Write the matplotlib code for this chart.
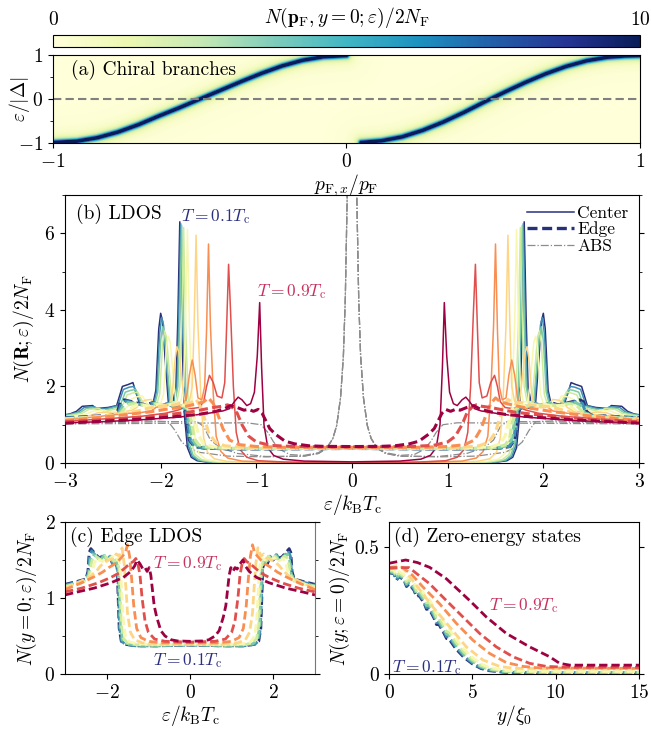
import numpy as np
import matplotlib.pyplot as plt
from matplotlib.ticker import MultipleLocator
from matplotlib.lines import Line2D

plt.rcParams['font.family'] = 'serif'
plt.rcParams['font.serif'] = ['cmr10']
plt.rcParams['mathtext.fontset'] = 'cm'
plt.rcParams['axes.formatter.use_mathtext'] = True
plt.rcParams['font.size'] = 14

# temperatures T/Tc and their line colours
temps = [0.1, 0.2, 0.3, 0.4, 0.5, 0.6, 0.7, 0.8, 0.9]
colors = ['#28307a', '#3f8fb4', '#7ccba4', '#cdeb9c', '#f7f7b0',
          '#fed585', '#f98e52', '#e04f4c', '#9e0142']

# chiral edge branches eps/|Delta| vs p_Fx/p_F
branch1_p = [-1.0, -0.92, -0.85, -0.78, -0.71, -0.64, -0.57, -0.5, -0.43, -0.36, -0.29, -0.22, -0.15, -0.08, 0.0]
branch1_e = [-1.0, -0.97, -0.89, -0.76, -0.59, -0.39, -0.2, 0.0, 0.2, 0.4, 0.59, 0.76, 0.89, 0.97, 1.0]
branch2_p = [0.05, 0.12, 0.19, 0.26, 0.33, 0.40, 0.47, 0.54, 0.61, 0.68, 0.75, 0.82, 0.89, 0.95, 1.0]
branch2_e = [-1.0, -0.96, -0.87, -0.72, -0.53, -0.31, -0.07, 0.16, 0.38, 0.58, 0.75, 0.88, 0.96, 0.99, 1.0]

# LDOS in the centre of the film, (eps/kTc, N/2NF), eps >= 0 (symmetric)
center_t1 = [(0, 0.0), (1.0, 0.005), (1.5, 0.02), (1.62, 0.06), (1.68, 0.15), (1.72, 0.4), (1.75, 1.2), (1.78, 3.5),
             (1.80, 6.3), (1.82, 3.8), (1.84, 2.0), (1.87, 1.6), (1.92, 1.6), (1.95, 2.6), (1.98, 3.7), (2.00, 3.91),
             (2.02, 3.5), (2.05, 1.9), (2.08, 1.55), (2.15, 1.5), (2.22, 1.55), (2.26, 1.85), (2.29, 2.1), (2.34, 2.05),
             (2.40, 2.0), (2.43, 1.75), (2.46, 1.5), (2.55, 1.45), (2.68, 1.42), (2.71, 1.5), (2.82, 1.48),
             (2.88, 1.35), (2.95, 1.28), (3.0, 1.26)]
center_t2 = [(0, 0.0), (1.0, 0.006), (1.5, 0.025), (1.61, 0.07), (1.67, 0.17), (1.71, 0.45), (1.74, 1.3), (1.77, 3.6),
             (1.79, 6.25), (1.81, 3.8), (1.83, 2.0), (1.86, 1.6), (1.91, 1.6), (1.94, 2.6), (1.97, 3.6), (1.99, 3.8),
             (2.01, 3.4), (2.04, 1.9), (2.07, 1.55), (2.14, 1.5), (2.21, 1.55), (2.25, 1.8), (2.28, 2.0), (2.33, 1.98),
             (2.39, 1.92), (2.42, 1.7), (2.45, 1.5), (2.55, 1.43), (2.66, 1.4), (2.69, 1.47), (2.80, 1.45),
             (2.86, 1.33), (2.95, 1.27), (3.0, 1.25)]
center_t3 = [(0, 0.0), (1.0, 0.008), (1.5, 0.03), (1.6, 0.08), (1.66, 0.2), (1.70, 0.5), (1.73, 1.4), (1.76, 3.6),
             (1.78, 6.2), (1.80, 3.8), (1.82, 2.0), (1.85, 1.6), (1.90, 1.6), (1.93, 2.5), (1.96, 3.4), (1.98, 3.56),
             (2.00, 3.2), (2.03, 1.85), (2.06, 1.55), (2.12, 1.5), (2.19, 1.52), (2.23, 1.75), (2.26, 1.92),
             (2.31, 1.9), (2.37, 1.85), (2.40, 1.65), (2.43, 1.48), (2.55, 1.4), (2.63, 1.38), (2.67, 1.44),
             (2.78, 1.42), (2.84, 1.32), (2.95, 1.26), (3.0, 1.24)]
center_t4 = [(0, 0.0), (1.0, 0.01), (1.45, 0.03), (1.57, 0.09), (1.64, 0.22), (1.68, 0.55), (1.71, 1.5), (1.74, 3.6),
             (1.76, 6.15), (1.78, 3.8), (1.80, 2.0), (1.83, 1.6), (1.88, 1.6), (1.91, 2.4), (1.94, 3.3), (1.96, 3.45),
             (1.98, 3.1), (2.01, 1.8), (2.04, 1.55), (2.10, 1.48), (2.17, 1.5), (2.21, 1.7), (2.24, 1.85),
             (2.29, 1.83), (2.35, 1.78), (2.38, 1.6), (2.41, 1.45), (2.52, 1.38), (2.60, 1.36), (2.64, 1.42),
             (2.75, 1.4), (2.82, 1.3), (2.95, 1.24), (3.0, 1.22)]
center_t5 = [(0, 0.0), (1.0, 0.012), (1.4, 0.035), (1.53, 0.1), (1.60, 0.25), (1.64, 0.6), (1.67, 1.6), (1.70, 3.6),
             (1.72, 6.1), (1.74, 3.7), (1.76, 2.0), (1.79, 1.6), (1.84, 1.6), (1.87, 2.3), (1.90, 3.15), (1.92, 3.31),
             (1.94, 3.0), (1.97, 1.8), (2.00, 1.55), (2.06, 1.46), (2.12, 1.48), (2.16, 1.62), (2.19, 1.75),
             (2.25, 1.73), (2.30, 1.68), (2.33, 1.52), (2.37, 1.42), (2.48, 1.35), (2.55, 1.33), (2.59, 1.38),
             (2.70, 1.36), (2.78, 1.28), (2.95, 1.2), (3.0, 1.19)]
center_t6 = [(0, 0.0), (0.9, 0.015), (1.3, 0.04), (1.44, 0.11), (1.51, 0.28), (1.55, 0.65), (1.58, 1.7), (1.61, 3.6),
             (1.63, 5.95), (1.65, 3.6), (1.67, 2.0), (1.70, 1.6), (1.75, 1.6), (1.78, 2.2), (1.81, 2.9), (1.83, 3.04),
             (1.85, 2.7), (1.88, 1.75), (1.91, 1.52), (1.97, 1.44), (2.03, 1.45), (2.07, 1.58), (2.10, 1.66),
             (2.16, 1.64), (2.21, 1.58), (2.25, 1.45), (2.30, 1.38), (2.42, 1.32), (2.5, 1.3), (2.55, 1.33),
             (2.66, 1.31), (2.74, 1.24), (2.95, 1.16), (3.0, 1.15)]
center_t7 = [(0, 0.0), (0.8, 0.02), (1.15, 0.05), (1.30, 0.13), (1.37, 0.3), (1.42, 0.7), (1.45, 1.8), (1.48, 3.6),
             (1.50, 5.72), (1.52, 3.5), (1.54, 2.0), (1.57, 1.65), (1.61, 1.7), (1.64, 2.3), (1.67, 2.69), (1.70, 2.3),
             (1.73, 1.7), (1.77, 1.5), (1.83, 1.42), (1.88, 1.45), (1.92, 1.55), (1.98, 1.52), (2.05, 1.45),
             (2.10, 1.36), (2.25, 1.3), (2.35, 1.3), (2.45, 1.27), (2.7, 1.2), (3.0, 1.12)]
center_t8 = [(0, 0.0), (0.7, 0.025), (0.98, 0.06), (1.10, 0.15), (1.17, 0.35), (1.21, 0.8), (1.24, 2.0), (1.27, 4.0),
             (1.29, 5.19), (1.31, 3.6), (1.33, 2.1), (1.36, 1.7), (1.41, 1.75), (1.45, 2.1), (1.49, 2.29), (1.52, 2.0),
             (1.55, 1.6), (1.60, 1.45), (1.68, 1.42), (1.75, 1.45), (1.82, 1.38), (1.95, 1.3), (2.2, 1.22),
             (2.6, 1.15), (3.0, 1.09)]
center_t9 = [(0, 0.03), (0.5, 0.05), (0.72, 0.1), (0.82, 0.2), (0.88, 0.4), (0.92, 1.0), (0.945, 2.5), (0.965, 4.19),
             (0.99, 2.8), (1.02, 1.85), (1.06, 1.55), (1.10, 1.5), (1.15, 1.65), (1.19, 1.72), (1.23, 1.6),
             (1.28, 1.42), (1.35, 1.36), (1.5, 1.3), (1.8, 1.2), (2.2, 1.13), (2.6, 1.08), (3.0, 1.05)]

# LDOS at the edge y = 0
edge_t1 = [(0, 0.38), (0.8, 0.37), (1.3, 0.37), (1.55, 0.39), (1.65, 0.43), (1.70, 0.6), (1.73, 1.1), (1.75, 1.4),
           (1.8, 1.5), (1.86, 1.45), (1.92, 1.55), (2.0, 1.5), (2.08, 1.58), (2.15, 1.52), (2.22, 1.55), (2.3, 1.6),
           (2.38, 1.65), (2.42, 1.6), (2.45, 1.35), (2.5, 1.25), (2.7, 1.22), (3.0, 1.18)]
edge_t2 = [(0, 0.38), (0.8, 0.37), (1.3, 0.37), (1.55, 0.39), (1.64, 0.43), (1.69, 0.6), (1.72, 1.1), (1.74, 1.4),
           (1.8, 1.5), (1.86, 1.45), (1.92, 1.55), (2.0, 1.5), (2.08, 1.57), (2.15, 1.5), (2.22, 1.53), (2.3, 1.58),
           (2.36, 1.62), (2.41, 1.55), (2.44, 1.33), (2.5, 1.24), (2.7, 1.21), (3.0, 1.17)]
edge_t3 = [(0, 0.385), (0.8, 0.375), (1.3, 0.38), (1.52, 0.4), (1.62, 0.45), (1.67, 0.62), (1.70, 1.1), (1.73, 1.4),
           (1.78, 1.5), (1.85, 1.47), (1.9, 1.55), (1.98, 1.5), (2.06, 1.56), (2.14, 1.5), (2.2, 1.53), (2.28, 1.56),
           (2.34, 1.58), (2.39, 1.5), (2.43, 1.32), (2.5, 1.23), (2.7, 1.2), (3.0, 1.16)]
edge_t4 = [(0, 0.39), (0.8, 0.38), (1.3, 0.385), (1.5, 0.41), (1.6, 0.47), (1.65, 0.65), (1.68, 1.1), (1.71, 1.4),
           (1.76, 1.5), (1.83, 1.48), (1.88, 1.55), (1.96, 1.5), (2.04, 1.55), (2.12, 1.5), (2.2, 1.52), (2.27, 1.55),
           (2.33, 1.53), (2.37, 1.45), (2.42, 1.3), (2.5, 1.22), (2.7, 1.19), (3.0, 1.15)]
edge_t5 = [(0, 0.395), (0.8, 0.39), (1.25, 0.395), (1.45, 0.42), (1.55, 0.5), (1.6, 0.7), (1.64, 1.1), (1.67, 1.4),
           (1.72, 1.52), (1.8, 1.5), (1.86, 1.55), (1.94, 1.5), (2.02, 1.53), (2.1, 1.48), (2.18, 1.5), (2.24, 1.52),
           (2.3, 1.45), (2.36, 1.32), (2.45, 1.25), (2.7, 1.19), (3.0, 1.14)]
edge_t6 = [(0, 0.4), (0.8, 0.4), (1.15, 0.41), (1.33, 0.45), (1.43, 0.55), (1.5, 0.8), (1.54, 1.15), (1.58, 1.45),
           (1.63, 1.66), (1.7, 1.55), (1.77, 1.58), (1.85, 1.52), (1.95, 1.5), (2.05, 1.47), (2.15, 1.42),
           (2.25, 1.35), (2.4, 1.28), (2.7, 1.2), (3.0, 1.13)]
edge_t7 = [(0, 0.41), (0.7, 0.41), (1.0, 0.43), (1.18, 0.48), (1.28, 0.6), (1.35, 0.9), (1.4, 1.25), (1.45, 1.55),
           (1.5, 1.7), (1.55, 1.6), (1.62, 1.55), (1.7, 1.5), (1.8, 1.45), (1.95, 1.4), (2.1, 1.34), (2.3, 1.28),
           (2.6, 1.2), (3.0, 1.11)]
edge_t8 = [(0, 0.42), (0.6, 0.43), (0.85, 0.46), (1.0, 0.55), (1.08, 0.7), (1.15, 1.0), (1.2, 1.3), (1.25, 1.45),
           (1.3, 1.52), (1.36, 1.48), (1.45, 1.45), (1.55, 1.4), (1.7, 1.33), (1.9, 1.27), (2.2, 1.2), (2.6, 1.13),
           (3.0, 1.08)]
edge_t9 = [(0, 0.43), (0.3, 0.435), (0.45, 0.45), (0.6, 0.5), (0.7, 0.57), (0.8, 0.75), (0.86, 0.9), (0.9, 1.1),
           (0.94, 1.3), (0.98, 1.4), (1.03, 1.35), (1.08, 1.4), (1.13, 1.38), (1.2, 1.45), (1.27, 1.5), (1.33, 1.42),
           (1.42, 1.35), (1.6, 1.27), (1.9, 1.2), (2.3, 1.13), (2.7, 1.08), (3.0, 1.04)]

# Andreev bound state contribution
abs_t1 = [(0, 21.0), (0.02, 16.0), (0.035, 10.5), (0.05, 7.0), (0.07, 4.3), (0.09, 2.8), (0.12, 1.7), (0.16, 0.98),
          (0.2, 0.64), (0.26, 0.39), (0.35, 0.25), (0.5, 0.18), (0.9, 0.16), (1.3, 0.18), (1.6, 0.28), (1.72, 0.42),
          (1.78, 0.55), (1.85, 0.85), (1.92, 1.08), (2.1, 1.1), (3.0, 1.05)]
abs_t7 = [(0, 21.0), (0.02, 16.0), (0.035, 10.5), (0.05, 7.0), (0.07, 4.3), (0.09, 2.8), (0.12, 1.7), (0.16, 0.98),
          (0.2, 0.64), (0.26, 0.39), (0.35, 0.25), (0.5, 0.18), (0.9, 0.17), (1.2, 0.25), (1.38, 0.4),
          (1.48, 0.6), (1.55, 0.95), (1.62, 1.08), (1.9, 1.08), (3.0, 1.04)]
abs_t9 = [(0, 21.0), (0.02, 16.0), (0.035, 10.5), (0.05, 7.0), (0.07, 4.3), (0.09, 2.8), (0.12, 1.7), (0.16, 0.98),
          (0.2, 0.64), (0.26, 0.42), (0.35, 0.27), (0.5, 0.2), (0.65, 0.22), (0.75, 0.35), (0.82, 0.55),
          (0.88, 0.8), (0.95, 1.0), (1.1, 1.05), (3.0, 1.02)]

# zero-energy LDOS vs distance from the edge, (y/xi0, N/2NF)
zero_t1 = [(0, 0.40), (0.3, 0.395), (0.45, 0.37), (0.6, 0.385), (0.9, 0.37), (1.05, 0.345), (1.2, 0.355),
           (1.5, 0.33), (1.65, 0.305), (1.8, 0.31), (2.1, 0.28), (2.25, 0.255), (2.4, 0.258), (2.7, 0.22),
           (2.85, 0.195), (3.0, 0.195), (3.3, 0.16), (3.45, 0.14), (3.6, 0.138), (4.0, 0.1), (4.5, 0.065),
           (5.0, 0.04), (5.5, 0.022), (6.0, 0.013), (7.0, 0.006), (9.0, 0.004), (15.0, 0.004)]
zero_t2 = [(0, 0.40), (0.3, 0.397), (0.45, 0.372), (0.6, 0.388), (0.9, 0.373), (1.05, 0.35), (1.2, 0.36),
           (1.5, 0.335), (1.65, 0.31), (1.8, 0.316), (2.1, 0.285), (2.25, 0.262), (2.4, 0.264), (2.7, 0.227),
           (2.85, 0.203), (3.0, 0.202), (3.3, 0.168), (3.45, 0.148), (3.6, 0.146), (4.0, 0.107), (4.5, 0.07),
           (5.0, 0.044), (5.5, 0.025), (6.0, 0.015), (7.0, 0.007), (9.0, 0.005), (15.0, 0.005)]
zero_t3 = [(0, 0.405), (0.3, 0.4), (0.45, 0.378), (0.6, 0.392), (0.9, 0.378), (1.05, 0.356), (1.2, 0.366),
           (1.5, 0.342), (1.65, 0.318), (1.8, 0.323), (2.1, 0.293), (2.25, 0.27), (2.4, 0.272), (2.7, 0.236),
           (2.85, 0.212), (3.0, 0.21), (3.3, 0.177), (3.45, 0.157), (3.6, 0.154), (4.0, 0.115), (4.5, 0.077),
           (5.0, 0.05), (5.5, 0.029), (6.0, 0.018), (7.0, 0.009), (9.0, 0.006), (15.0, 0.006)]
zero_t4 = [(0, 0.41), (0.3, 0.405), (0.45, 0.386), (0.6, 0.398), (0.9, 0.385), (1.05, 0.364), (1.2, 0.374),
           (1.5, 0.352), (1.65, 0.328), (1.8, 0.333), (2.1, 0.304), (2.25, 0.281), (2.4, 0.283), (2.7, 0.248),
           (2.85, 0.224), (3.0, 0.222), (3.3, 0.189), (3.45, 0.168), (3.6, 0.165), (4.0, 0.126), (4.5, 0.086),
           (5.0, 0.057), (5.5, 0.034), (6.0, 0.021), (7.0, 0.011), (9.0, 0.008), (15.0, 0.008)]
zero_t5 = [(0, 0.415), (0.3, 0.41), (0.45, 0.395), (0.6, 0.405), (0.9, 0.393), (1.05, 0.374), (1.2, 0.383),
           (1.5, 0.363), (1.65, 0.34), (1.8, 0.345), (2.1, 0.317), (2.25, 0.295), (2.4, 0.296), (2.7, 0.262),
           (2.85, 0.24), (3.0, 0.237), (3.3, 0.204), (3.45, 0.183), (3.6, 0.18), (4.0, 0.14), (4.5, 0.098),
           (5.0, 0.066), (5.5, 0.041), (6.0, 0.026), (7.0, 0.014), (9.0, 0.01), (15.0, 0.01)]
zero_t6 = [(0, 0.42), (0.6, 0.43), (1.0, 0.405), (1.64, 0.35), (2.64, 0.264), (3.64, 0.186), (4.64, 0.107),
           (5.64, 0.055), (6.64, 0.03), (7.5, 0.022), (15.0, 0.02)]
zero_t7 = [(0, 0.415), (0.84, 0.42), (1.4, 0.39), (2.04, 0.343), (3.04, 0.277), (4.04, 0.2), (5.04, 0.133),
           (6.04, 0.081), (7.04, 0.045), (8.04, 0.03), (9.0, 0.024), (15.0, 0.022)]
zero_t8 = [(0, 0.42), (1.2, 0.42), (2.44, 0.356), (3.44, 0.29), (4.44, 0.225), (5.44, 0.16), (6.44, 0.107),
           (7.44, 0.068), (8.44, 0.042), (9.44, 0.03), (10.5, 0.027), (15.0, 0.026)]
zero_t9 = [(0, 0.437), (1.0, 0.45), (1.7, 0.44), (2.44, 0.421), (3.44, 0.376), (4.84, 0.29), (5.84, 0.225),
           (7.04, 0.16), (8.44, 0.107), (9.64, 0.068), (10.24, 0.042), (10.84, 0.035), (15.0, 0.035)]

center_all = [center_t1, center_t2, center_t3, center_t4, center_t5, center_t6, center_t7, center_t8, center_t9]
edge_all = [edge_t1, edge_t2, edge_t3, edge_t4, edge_t5, edge_t6, edge_t7, edge_t8, edge_t9]
zero_all = [zero_t1, zero_t2, zero_t3, zero_t4, zero_t5, zero_t6, zero_t7, zero_t8, zero_t9]
abs_all = [abs_t1, abs_t7, abs_t9]

label_lo = '#2b2f80'
label_hi = '#c8325f'


def mirrored(pts):
    a = np.array(pts, dtype=float)
    e = np.concatenate([-a[::-1, 0], a[1:, 0]])
    n = np.concatenate([a[::-1, 1], a[1:, 1]])
    return e, n


fig = plt.figure(figsize=(6.51, 7.31), dpi=100)
W, H = 651, 731


def px_axes(x0, y0, x1, y1):
    return fig.add_axes([x0 / W, 1 - y1 / H, (x1 - x0) / W, (y1 - y0) / H])


cax = px_axes(53, 35, 640, 47)
ax_a = px_axes(53, 55, 640, 143)
ax_b = px_axes(65, 195, 639, 463)
ax_c = px_axes(65, 522, 315, 674)
ax_d = px_axes(389, 522, 639, 674)

# (a) spectral weight around the chiral branches
nx, ny = 587, 88
pg, eg = np.meshgrid(np.linspace(-1, 1, nx), np.linspace(-1, 1, ny))
X, Y = pg * nx / 2, eg * ny / 2
dist = np.full(X.shape, np.inf)
for bp, be in [(branch1_p, branch1_e), (branch2_p, branch2_e)]:
    for i in range(len(bp) - 1):
        x0, y0 = bp[i] * nx / 2, be[i] * ny / 2
        dx, dy = (bp[i + 1] - bp[i]) * nx / 2, (be[i + 1] - be[i]) * ny / 2
        t = np.clip(((X - x0) * dx + (Y - y0) * dy) / (dx * dx + dy * dy), 0, 1)
        dist = np.minimum(dist, np.hypot(X - x0 - t * dx, Y - y0 - t * dy))
w = 2.0
dos = 14 * w ** 2 / (dist ** 2 + w ** 2)
im = ax_a.imshow(dos, origin='lower', extent=[-1, 1, -1, 1], aspect='auto',
                 cmap='YlGnBu', vmin=0, vmax=10, interpolation='bilinear')
ax_a.axhline(0, color='#808080', ls='--', lw=1.5, dashes=(4, 2))
ax_a.set_xlim(-1, 1)
ax_a.set_ylim(-1, 1)
ax_a.set_xticks([-1, 0, 1])
ax_a.set_yticks([-1, 0, 1])
ax_a.yaxis.set_minor_locator(MultipleLocator(0.5))
ax_a.set_xlabel(r'$p_{\mathrm{F},x}/p_\mathrm{F}$', labelpad=1)
ax_a.set_ylabel(r'$\varepsilon/|\Delta|$')
ax_a.yaxis.set_label_coords(-0.036, 0.5)
ax_a.text(0.03, 0.83, '(a) Chiral branches', transform=ax_a.transAxes, va='center', fontsize=14)

cb = fig.colorbar(im, cax=cax, orientation='horizontal')
cb.set_ticks([0, 10])
cax.xaxis.set_ticks_position('top')
cax.tick_params(length=0, pad=4)
cax.text(0.5, 2.45, r'$N(\mathbf{p}_\mathrm{F}, y=0; \varepsilon)/2N_\mathrm{F}$',
         transform=cax.transAxes, ha='center', va='center', fontsize=14)

# (b) LDOS at centre and edge
for pts in abs_all:
    e, n = mirrored(pts)
    ax_b.plot(e, n, color='#8c8c8c', lw=0.9, ls='-.', zorder=1)
for pts, c in zip(center_all, colors):
    e, n = mirrored(pts)
    ax_b.plot(e, n, color=c, lw=1.1, zorder=2)
for pts, c in zip(edge_all, colors):
    e, n = mirrored(pts)
    ax_b.plot(e, n, color=c, lw=2.2, ls='--', dashes=(3, 1.4), zorder=3)
ax_b.set_xlim(-3, 3)
ax_b.set_ylim(0, 7)
ax_b.set_xticks([-3, -2, -1, 0, 1, 2, 3])
ax_b.set_yticks([0, 2, 4, 6])
ax_b.yaxis.set_minor_locator(MultipleLocator(1))
ax_b.tick_params(axis='y', which='both', right=True)
ax_b.set_xlabel(r'$\varepsilon/k_\mathrm{B}T_\mathrm{c}$', labelpad=1)
ax_b.set_ylabel(r'$N(\mathbf{R};\varepsilon)/2N_\mathrm{F}$', labelpad=6)
ax_b.text(0.02, 0.93, '(b) LDOS', transform=ax_b.transAxes, va='center', fontsize=14)
ax_b.text(-1.79, 6.45, r'$T=0.1T_\mathrm{c}$', color=label_lo, va='center', fontsize=12.5)
ax_b.text(-0.99, 4.48, r'$T=0.9T_\mathrm{c}$', color=label_hi, va='center', fontsize=12.5)
handles = [Line2D([], [], color=colors[0], lw=1.1),
           Line2D([], [], color=colors[0], lw=2.4, ls='--', dashes=(3, 1.4)),
           Line2D([], [], color='#8c8c8c', lw=0.9, ls='-.')]
ax_b.legend(handles, ['Center', 'Edge', 'ABS'], loc='upper right', frameon=False, fontsize=12.5,
            handlelength=2.7, handletextpad=0.2, labelspacing=0.05, borderaxespad=0.2)

# (c) edge LDOS
for pts, c in zip(edge_all, colors):
    e, n = mirrored(pts)
    ax_c.plot(e, n, color=c, lw=2.0, ls='--', dashes=(3, 1.4))
ax_c.set_xlim(-3, 3)
ax_c.set_ylim(0, 2)
ax_c.set_xticks([-2, 0, 2])
ax_c.set_yticks([0, 1, 2])
ax_c.yaxis.set_minor_locator(MultipleLocator(0.5))
ax_c.tick_params(axis='y', which='both', right=True)
ax_c.spines['right'].set_color('#777777')
ax_c.set_xlabel(r'$\varepsilon/k_\mathrm{B}T_\mathrm{c}$', labelpad=1)
ax_c.set_ylabel(r'$N(y=0;\varepsilon)/2N_\mathrm{F}$', labelpad=4)
ax_c.text(0.02, 0.9, '(c) Edge LDOS', transform=ax_c.transAxes, va='center', fontsize=14)
ax_c.text(-0.89, 1.46, r'$T=0.9T_\mathrm{c}$', color=label_hi, va='center', fontsize=12.5)
ax_c.text(-0.89, 0.18, r'$T=0.1T_\mathrm{c}$', color=label_lo, va='center', fontsize=12.5)

# (d) zero-energy states vs distance from the edge
for pts, c in zip(zero_all, colors):
    a = np.array(pts)
    ax_d.plot(a[:, 0], a[:, 1], color=c, lw=2.0, ls='--', dashes=(3, 1.4))
ax_d.set_xlim(0, 15)
ax_d.set_ylim(0, 0.6)
ax_d.set_xticks([0, 5, 10, 15])
ax_d.set_yticks([0, 0.5])
ax_d.set_yticklabels(['0', '0.5'])
ax_d.tick_params(axis='y', right=True)
ax_d.set_xlabel(r'$y/\xi_0$', labelpad=1)
ax_d.set_ylabel(r'$N(y;\varepsilon=0)/2N_\mathrm{F}$', labelpad=2)
ax_d.text(0.02, 0.9, '(d) Zero-energy states', transform=ax_d.transAxes, va='center', fontsize=14)
ax_d.text(6.0, 0.272, r'$T=0.9T_\mathrm{c}$', color=label_hi, va='center', fontsize=12.5)
ax_d.text(0.18, 0.024, r'$T=0.1T_\mathrm{c}$', color=label_lo, va='center', fontsize=12.5)

fig.savefig('out.png', dpi=100)
